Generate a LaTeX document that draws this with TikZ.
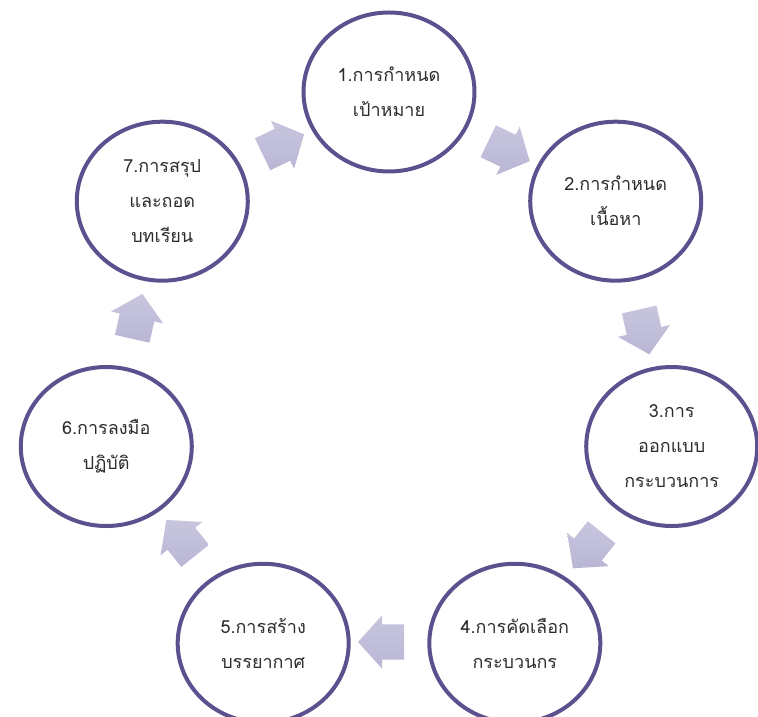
\documentclass[tikz,border=0pt]{standalone}
\usepackage{fontspec}
\newfontfamily\thaifont[Script=Thai]{Loma}
\usetikzlibrary{shapes.geometric,shapes.arrows}
\definecolor{ringc}{RGB}{90,82,142}
\definecolor{arrowc}{RGB}{184,182,212}
\definecolor{arrowl}{RGB}{200,198,222}
\definecolor{txtc}{RGB}{45,45,45}
\begin{document}
\begin{tikzpicture}[x=1pt,y=1pt,
  stage/.style={ellipse, draw=ringc, line width=4pt, fill=white,
    minimum width=171pt, minimum height=159pt, inner sep=0pt, align=center,
    font=\thaifont\fontsize{18}{35}\selectfont, text=txtc},
  flow/.style={single arrow, shading=axis, top color=arrowl, bottom color=arrowc,
    draw=none, minimum height=46pt,
    inner xsep=0pt, inner ysep=17.5pt, single arrow head extend=9pt,
    single arrow tip angle=96, text height=0pt, text depth=0pt, font=\tiny}]
\useasboundingbox (0,0) rectangle (758,717);
\begin{scope}[shift={(389,335)}]
  \node[stage] (s1) at (90:290pt) {1.การกำหนด\\เป้าหมาย};
  \node[stage] (s2) at (38.571:290pt) {2.การกำหนด\\เนื้อหา};
  \node[stage] (s3) at (-12.857:290pt) {3.การ\\ออกแบบ\\กระบวนการ};
  \node[stage] (s4) at (-64.286:290pt) {4.การคัดเลือก\\กระบวนกร};
  \node[stage] (s5) at (-115.714:290pt) {5.การสร้าง\\บรรยากาศ};
  \node[stage] (s6) at (-167.143:290pt) {6.การลงมือ\\ปฏิบัติ};
  \node[stage] (s7) at (141.429:290pt) {7.การสรุป\\และถอด\\บทเรียน};
  \node[flow, rotate=-25.714] (a12) at (64.286:260pt) {};
  \node[flow, rotate=-77.143] (a23) at (12.857:260pt) {};
  \node[flow, rotate=-128.571] (a34) at (-38.571:260pt) {};
  \node[flow, rotate=-180] (a45) at (-90:260pt) {};
  \node[flow, rotate=128.571] (a56) at (-141.429:260pt) {};
  \node[flow, rotate=77.143] (a67) at (167.143:260pt) {};
  \node[flow, rotate=25.714] (a71) at (115.714:260pt) {};
\end{scope}
\end{tikzpicture}
\end{document}
